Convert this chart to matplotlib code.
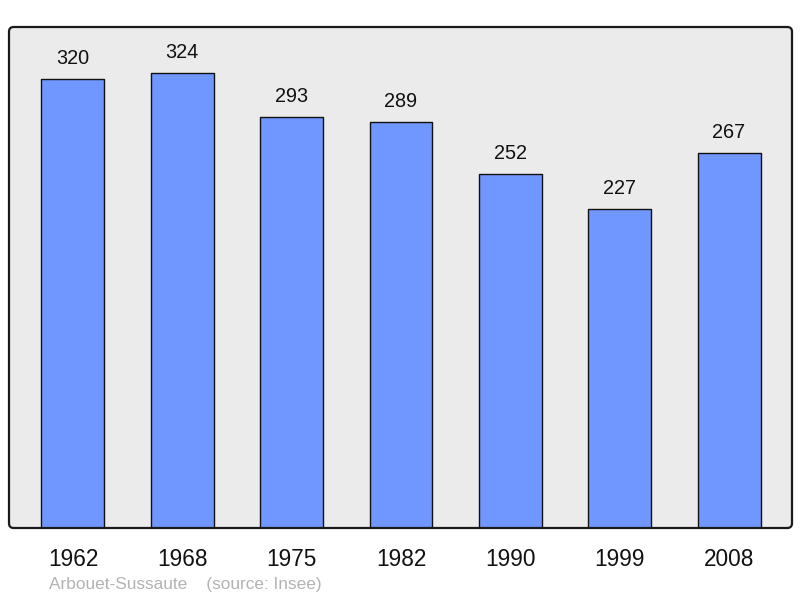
import matplotlib.pyplot as plt
from matplotlib.patches import FancyBboxPatch

years = ["1962", "1968", "1975", "1982", "1990", "1999", "2008"]
population = [320, 324, 293, 289, 252, 227, 267]
place = "Arbouet-Sussaute"
source = "(source: Insee)"

plt.rcParams["font.family"] = ["Liberation Sans", "DejaVu Sans"]

fig = plt.figure(figsize=(8, 5.98), dpi=100)
ax = fig.add_axes([9 / 800, 70 / 598, 783 / 800, 501 / 598])
ax.set_xlim(-0.585, 6.576)
ax.set_ylim(0, 357)
ax.axis("off")

# rounded frame: fill behind, outline on top
frame_kw = dict(boxstyle="round,pad=0,rounding_size=0.006",
                mutation_aspect=783 / 501, transform=ax.transAxes, clip_on=False)
ax.add_patch(FancyBboxPatch((0, 0), 1, 1, facecolor="#ebebeb",
                            edgecolor="none", zorder=0, **frame_kw))
ax.add_patch(FancyBboxPatch((0, 0), 1, 1, facecolor="none",
                            edgecolor="#1a1a1a", linewidth=1.6, zorder=5, **frame_kw))

xs = range(len(years))
ax.bar(xs, population, width=0.576, color="#7097ff", edgecolor="#111111",
       linewidth=1.0, joinstyle="round", zorder=2)

for x, v, yr in zip(xs, population, years):
    ax.annotate(str(v), (x, v), xytext=(0, 10.8), textcoords="offset points",
                ha="center", va="baseline", fontsize=14.3, color="#111111")
    ax.annotate(yr, (x, 0), xytext=(0, -27.4), textcoords="offset points",
                ha="center", va="baseline", fontsize=16.3, color="#111111",
                annotation_clip=False)

fig.text(49 / 800, 9 / 598, place + "    " + source, fontsize=12.4,
         color="#b3b3b3", ha="left", va="baseline")

fig.savefig("out.png", dpi=100)
